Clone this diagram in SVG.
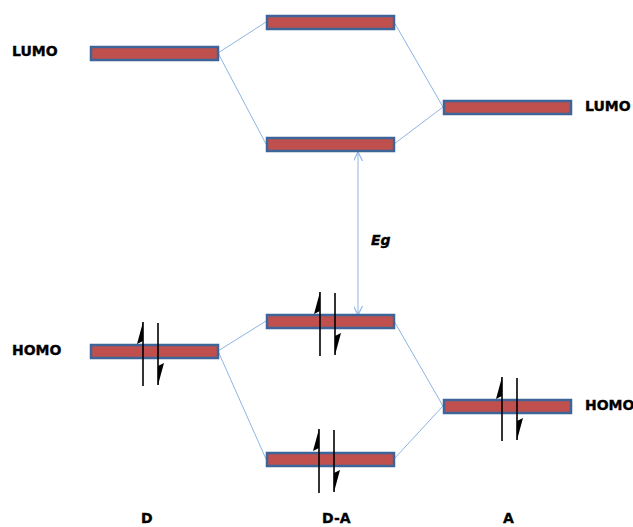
<svg xmlns="http://www.w3.org/2000/svg" width="633" height="527" viewBox="0 0 633 527">
<style>
.bar{fill:#C0504D;stroke:#3E6599;stroke-width:2.5}
.conn{stroke:#8EB4E3;stroke-width:1;fill:none}
.spin{stroke:#000;stroke-width:1.6}
.head{fill:#000}
.lbl{font-family:"DejaVu Sans",Verdana,sans-serif;font-weight:bold;font-size:14px;fill:#000;stroke:#000;stroke-width:0.35}
</style>
<defs>
<marker id="ah" viewBox="0 0 10 10" refX="10" refY="5" markerWidth="9" markerHeight="9" markerUnits="userSpaceOnUse" orient="auto">
<path d="M0,0 L10,5 L0,10" fill="none" stroke="#8EB4E3" stroke-width="1.3"/>
</marker>
<g id="pair">
<line class="spin" x1="0" y1="0" x2="0" y2="64"/>
<path class="head" d="M0,0 L-6,22 L0,19 Z"/>
<line class="spin" x1="15" y1="1" x2="15" y2="63"/>
<path class="head" d="M15,63 L21,41 L15,44 Z"/>
</g>
</defs>
<rect width="633" height="527" fill="#fff"/>
<g id="connectors">
<line class="conn" x1="218" y1="53" x2="266" y2="22"/>
<line class="conn" x1="218" y1="53" x2="266" y2="144"/>
<line class="conn" x1="443" y1="107" x2="394" y2="22"/>
<line class="conn" x1="443" y1="107" x2="394" y2="144"/>
<line class="conn" x1="218" y1="351" x2="266" y2="321"/>
<line class="conn" x1="218" y1="351" x2="266" y2="459"/>
<line class="conn" x1="443" y1="406" x2="394" y2="321"/>
<line class="conn" x1="443" y1="406" x2="394" y2="459"/>
<line class="conn" x1="358" y1="233" x2="358" y2="152" marker-end="url(#ah)"/>
<line class="conn" x1="358" y1="233" x2="358" y2="315" marker-end="url(#ah)"/>
</g>
<g id="d-lumo"><rect class="bar" x="91" y="47" width="127" height="13"/></g>
<g id="da-lumo-top"><rect class="bar" x="267" y="16" width="127" height="13"/></g>
<g id="da-lumo"><rect class="bar" x="267" y="138" width="127" height="13"/></g>
<g id="a-lumo"><rect class="bar" x="444" y="101" width="127" height="13"/></g>
<g id="d-homo"><rect class="bar" x="91" y="345" width="127" height="13"/><use href="#pair" x="143" y="322"/></g>
<g id="da-homo"><rect class="bar" x="267" y="315" width="127" height="13"/><use href="#pair" x="320" y="292"/></g>
<g id="da-homo-low"><rect class="bar" x="267" y="453" width="127" height="13"/><use href="#pair" x="319" y="429"/></g>
<g id="a-homo"><rect class="bar" x="444" y="400" width="127" height="13"/><use href="#pair" x="502" y="377"/></g>
<g id="labels">
<text class="lbl" x="12" y="56">LUMO</text>
<text class="lbl" x="12" y="355">HOMO</text>
<text class="lbl" x="585" y="111">LUMO</text>
<text class="lbl" x="585" y="410">HOMO</text>
<text class="lbl" x="141" y="523">D</text>
<text class="lbl" x="322" y="523">D-A</text>
<text class="lbl" x="503" y="523">A</text>
<text class="lbl" x="371" y="245" font-style="italic">Eg</text>
</g>
</svg>
